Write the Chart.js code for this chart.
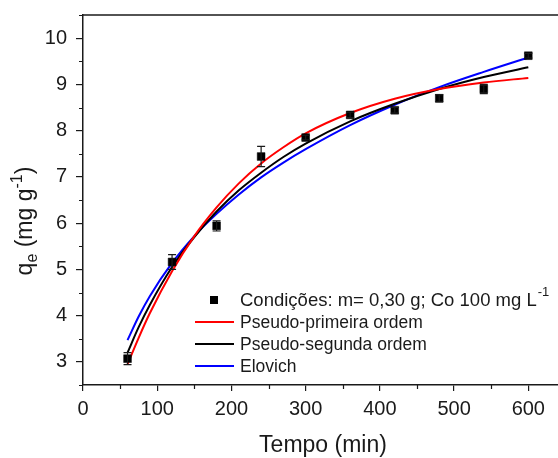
<!DOCTYPE html>
<html>
<head>
<meta charset="utf-8">
<script src="https://cdn.jsdelivr.net/npm/chart.js@4/dist/chart.umd.min.js"></script>
<style>
  html, body { margin: 0; padding: 0; background: #fff; }
  #wrap { width: 558px; height: 458px; position: relative; }
</style>
</head>
<body>
<div id="wrap"><canvas id="chart"></canvas></div>
<script>
// measured points (min, mg/g) with error bars
const tempo = [60, 120, 180, 240, 300, 360, 420, 480, 540, 600];
const qe = [3.07, 5.16, 5.94, 7.44, 7.85, 8.34, 8.44, 8.70, 8.90, 9.62];
const qeErr = [0.13, 0.16, 0.11, 0.22, 0.05, 0.06, 0.06, 0.08, 0.10, 0.05];

// fitted curves
const tempoAjuste = [60, 75, 90, 120, 150, 180, 210, 240, 270, 300, 360, 420, 480, 540, 600];
const pseudoPrimeira = [2.95, 3.52, 4.05, 4.96, 5.72, 6.34, 6.86, 7.29, 7.64, 7.94, 8.38, 8.69, 8.90, 9.04, 9.14];
const pseudoSegunda = [3.20, 3.75, 4.23, 5.05, 5.70, 6.25, 6.71, 7.09, 7.43, 7.72, 8.20, 8.58, 8.90, 9.16, 9.37];
const elovich = [3.47, 3.98, 4.42, 5.14, 5.72, 6.20, 6.62, 6.99, 7.31, 7.60, 8.12, 8.56, 8.94, 9.27, 9.58];

const xTicks = [0, 100, 200, 300, 400, 500, 600];
const yTicks = [3, 4, 5, 6, 7, 8, 9, 10];

const FONT = '"Liberation Sans", Arial, sans-serif';
const INK = '#1a1a1a';

const toXY = (xs, ys) => xs.map((x, i) => ({ x: x, y: ys[i] }));

// error bars, minor ticks, top frame line, axis titles and legend
const extras = {
  id: 'extras',
  afterDatasetsDraw(chart) {
    const ctx = chart.ctx;
    const xs = chart.scales.x, ys = chart.scales.y;
    ctx.save();
    ctx.strokeStyle = INK;
    ctx.lineWidth = 1.2;
    tempo.forEach((t, i) => {
      const px = xs.getPixelForValue(t);
      const top = ys.getPixelForValue(qe[i] + qeErr[i]);
      const bot = ys.getPixelForValue(qe[i] - qeErr[i]);
      ctx.beginPath();
      ctx.moveTo(px, top); ctx.lineTo(px, bot);
      ctx.moveTo(px - 4, top); ctx.lineTo(px + 4, top);
      ctx.moveTo(px - 4, bot); ctx.lineTo(px + 4, bot);
      ctx.stroke();
    });
    ctx.restore();
  },
  afterDraw(chart) {
    const ctx = chart.ctx;
    const xs = chart.scales.x, ys = chart.scales.y;
    const area = chart.chartArea;
    ctx.save();
    ctx.strokeStyle = INK;
    ctx.lineWidth = 1.5;
    // top frame
    ctx.beginPath();
    ctx.moveTo(area.left, area.top);
    ctx.lineTo(area.right, area.top);
    ctx.stroke();
    // minor ticks
    ctx.lineWidth = 1.2;
    ctx.beginPath();
    for (let v = 50; v < xs.max; v += 100) {
      const px = Math.round(xs.getPixelForValue(v)) + 0.5;
      ctx.moveTo(px, area.bottom); ctx.lineTo(px, area.bottom + 4);
    }
    for (let v = 2.5; v <= ys.max + 0.01; v += 1) {
      const py = Math.round(ys.getPixelForValue(v)) + 0.5;
      ctx.moveTo(area.left, py); ctx.lineTo(area.left - 4, py);
    }
    ctx.stroke();

    // x title
    ctx.fillStyle = INK;
    ctx.font = '23px ' + FONT;
    ctx.textAlign = 'center';
    ctx.textBaseline = 'alphabetic';
    ctx.fillText('Tempo (min)', 323, 452);

    // y title: q_e (mg g^-1)
    ctx.save();
    ctx.translate(32, 221);
    ctx.rotate(-Math.PI / 2);
    const big = '23px ' + FONT, small = '16px ' + FONT;
    const parts = [
      { t: 'q', f: big, dy: 0 },
      { t: 'e', f: small, dy: 5 },
      { t: ' (mg g', f: big, dy: 0 },
      { t: '-1', f: small, dy: -10 },
      { t: ')', f: big, dy: 0 }
    ];
    let w = 0;
    parts.forEach(p => { ctx.font = p.f; w += ctx.measureText(p.t).width; });
    let cx = -w / 2;
    ctx.textAlign = 'left';
    parts.forEach(p => {
      ctx.font = p.f;
      ctx.fillText(p.t, cx, p.dy);
      cx += ctx.measureText(p.t).width;
    });
    ctx.restore();

    // legend
    const lx0 = 195, lx1 = 234, tx = 240;
    const rows = [
      { y: 300, kind: 'point' },
      { y: 322, kind: 'line', color: '#ff0000', label: 'Pseudo-primeira ordem' },
      { y: 344, kind: 'line', color: '#000000', label: 'Pseudo-segunda ordem' },
      { y: 366, kind: 'line', color: '#0000ff', label: 'Elovich' }
    ];
    ctx.textBaseline = 'middle';
    ctx.textAlign = 'left';
    rows.forEach(r => {
      if (r.kind === 'point') {
        ctx.fillStyle = '#000';
        ctx.fillRect(210, r.y - 4, 8, 8);
        ctx.fillStyle = INK;
        ctx.font = '18.5px ' + FONT;
        const main = 'Condições: m= 0,30 g; Co 100 mg L';
        ctx.fillText(main, tx, r.y + 1);
        const mw = ctx.measureText(main).width;
        ctx.font = '13px ' + FONT;
        ctx.fillText('-1', tx + mw + 1, r.y - 8);
      } else {
        ctx.strokeStyle = r.color;
        ctx.lineWidth = 2;
        ctx.beginPath();
        ctx.moveTo(lx0, r.y); ctx.lineTo(lx1, r.y);
        ctx.stroke();
        ctx.fillStyle = INK;
        ctx.font = '17.5px ' + FONT;
        ctx.fillText(r.label, tx, r.y + 1);
      }
    });
    ctx.restore();
  }
};

const curve = (label, ys, color) => ({
  label: label,
  data: toXY(tempoAjuste, ys),
  borderColor: color,
  backgroundColor: color,
  borderWidth: 2,
  pointRadius: 0,
  fill: false,
  cubicInterpolationMode: 'monotone',
  order: 2
});

new Chart(document.getElementById('chart'), {
  type: 'line',
  data: {
    datasets: [
      {
        label: 'Condições: m= 0,30 g; Co 100 mg L-1',
        data: toXY(tempo, qe),
        showLine: false,
        pointStyle: 'rect',
        pointRadius: 5.5,
        pointBackgroundColor: '#000',
        pointBorderColor: '#000',
        pointBorderWidth: 0.5,
        order: 1
      },
      curve('Pseudo-primeira ordem', pseudoPrimeira, '#ff0000'),
      curve('Pseudo-segunda ordem', pseudoSegunda, '#000000'),
      curve('Elovich', elovich, '#0000ff')
    ]
  },
  options: {
    responsive: true,
    maintainAspectRatio: false,
    animation: false,
    layout: { autoPadding: false, padding: { top: 15, right: 0, left: 0, bottom: 0 } },
    plugins: { legend: { display: false }, tooltip: { enabled: false } },
    scales: {
      x: {
        type: 'linear',
        min: 0,
        max: 640,
        afterBuildTicks: s => { s.ticks = xTicks.map(v => ({ value: v })); },
        afterFit: s => { s.height = 73; s.paddingLeft = 0; s.paddingRight = 0; },
        border: { color: INK, width: 1.5 },
        grid: { drawOnChartArea: false, drawTicks: true, tickLength: 6, color: INK, lineWidth: 1.2 },
        ticks: { color: INK, padding: 6, maxRotation: 0, font: { family: FONT, size: 20 } }
      },
      y: {
        type: 'linear',
        min: 2.5,
        max: 10.5,
        afterBuildTicks: s => { s.ticks = yTicks.map(v => ({ value: v })); },
        afterFit: s => { s.width = 83; s.paddingTop = 0; s.paddingBottom = 0; },
        border: { color: INK, width: 1.5 },
        grid: { drawOnChartArea: false, drawTicks: true, tickLength: 7, color: INK, lineWidth: 1.2 },
        ticks: { color: INK, padding: 9, font: { family: FONT, size: 20 } }
      }
    }
  },
  plugins: [extras]
});
</script>
</body>
</html>
